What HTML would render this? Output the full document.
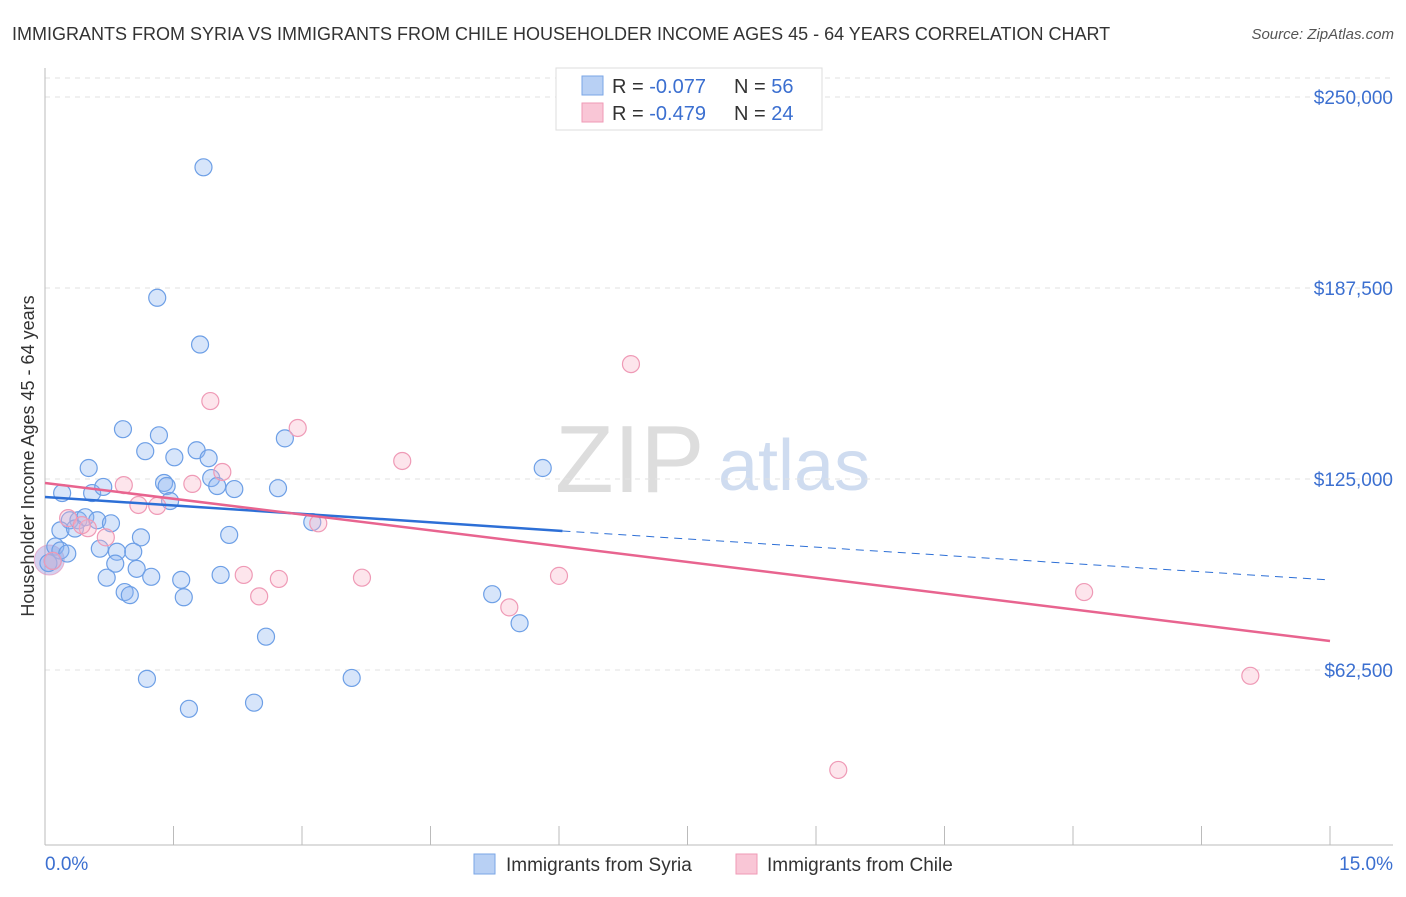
<!DOCTYPE html>
<html><head><meta charset="utf-8"><style>
body{margin:0;background:#fff;font-family:"Liberation Sans",sans-serif;}
svg text{font-family:"Liberation Sans",sans-serif;}
</style></head><body>
<svg id="chart" width="1406" height="892">
<text x="12" y="40" font-size="18" fill="#333">IMMIGRANTS FROM SYRIA VS IMMIGRANTS FROM CHILE HOUSEHOLDER INCOME AGES 45 - 64 YEARS CORRELATION CHART</text>
<text x="1394" y="39" font-size="15" fill="#555" text-anchor="end" font-style="italic">Source: ZipAtlas.com</text>
<text x="34" y="456" font-size="18" fill="#333" text-anchor="middle" transform="rotate(-90 34 456)">Householder Income Ages 45 - 64 years</text>
<text x="555" y="492" font-size="96" fill="#ddd" font-family="Liberation Serif">ZIP</text>
<text x="718" y="490" font-size="72" fill="#cfdcf0">atlas</text>
<g id="grid"></g><g id="axes"></g><g id="pts"></g><g id="lines"></g>
<g>
<rect x="556" y="68" width="266" height="62" fill="#fff" stroke="#ddd"/>
<rect x="582" y="76" width="21" height="19" fill="#b8d0f4" stroke="#7aa6e6"/>
<rect x="582" y="103" width="21" height="19" fill="#f9c6d6" stroke="#ef9ab6"/>
<text x="612" y="93" font-size="20" fill="#333">R = <tspan fill="#3b6fd0">-0.077</tspan></text>
<text x="734" y="93" font-size="20" fill="#333">N = <tspan fill="#3b6fd0">56</tspan></text>
<text x="612" y="120" font-size="20" fill="#333">R = <tspan fill="#3b6fd0">-0.479</tspan></text>
<text x="734" y="120" font-size="20" fill="#333">N = <tspan fill="#3b6fd0">24</tspan></text>
</g>
<g>
<rect x="474" y="854" width="21" height="20" fill="#b8d0f4" stroke="#7aa6e6"/>
<text x="506" y="871" font-size="19" fill="#333">Immigrants from Syria</text>
<rect x="736" y="854" width="21" height="20" fill="#f9c6d6" stroke="#ef9ab6"/>
<text x="767" y="871" font-size="19" fill="#333">Immigrants from Chile</text>
</g>
</svg>
<script>
const yTicks=[62500,125000,187500,250000];
const yTickLabels=["$62,500","$125,000","$187,500","$250,000"];
const xTicks=[0,1.5,3,4.5,6,7.5,9,10.5,12,13.5,15];
const xEndLabels=["0.0%","15.0%"];
const syriaX=[1.85,1.31,1.81,1.33,0.91,1.17,1.51,1.77,1.91,0.51,2.80,5.81,1.39,1.42,1.94,2.01,2.21,2.72,0.20,0.55,1.46,0.68,3.12,2.15,0.29,0.39,0.47,0.61,0.77,1.12,0.18,0.12,0.18,0.26,0.84,1.03,0.82,1.07,0.72,1.24,1.59,2.05,0.93,0.99,1.62,5.22,5.54,2.58,1.19,3.58,1.68,2.44,0.04,0.09,0.64,0.35];
const syriaY=[227000,184300,169000,139300,141300,134100,132100,134400,131800,128600,138300,128600,123700,122700,125300,122700,121700,122000,120400,120400,117800,122400,110900,106700,111500,111500,112500,111500,110500,105900,108200,102900,101600,100600,101200,101200,97300,95600,92700,93000,92000,93600,88000,87000,86300,87300,77800,73400,59600,59900,49800,51800,97500,98200,102200,108800];
const chileX=[6.84,1.93,2.95,4.17,2.07,1.72,0.92,1.09,1.31,0.27,0.50,0.71,3.19,0.09,2.32,2.73,3.70,2.50,5.42,6.00,12.13,14.07,9.26,0.43];
const chileY=[162600,150500,141700,130900,127300,123400,123000,116500,116200,112200,108900,105900,110500,98200,93600,92300,92700,86600,83000,93300,88000,60600,29800,109900];
const syriaTrend=[[0,119100],[6.04,108000],[15,91950]];
const chileTrend=[[0,123700],[15,72000]];
const NS="http://www.w3.org/2000/svg";
const X=v=>45+v/15*1285, Y=v=>670-(v-62500)/62500*191;
function mk(tag,attrs,parent){const e=document.createElementNS(NS,tag);for(const k in attrs)e.setAttribute(k,attrs[k]);document.getElementById(parent).appendChild(e);return e;}
yTicks.forEach((t,i)=>{
 const l=mk('line',{x1:45,x2:1393,y1:Y(t),y2:Y(t),stroke:'#e2e2e2','stroke-dasharray':'5,5'},'grid');
 
 
 const tx=mk('text',{x:1393,y:Y(t)+7,'font-size':19,fill:'#3b6fd0','text-anchor':'end'},'axes');
 tx.textContent=yTickLabels[i];
 
 
});
const topGrid=mk('line',{x1:45,x2:1393,y1:78,y2:78,stroke:'#e2e2e2','stroke-dasharray':'5,5'},'grid');


const ya=mk('line',{x1:45,x2:45,y1:68,y2:845,stroke:'#bbb'},'axes');


const xa=mk('line',{x1:45,x2:1393,y1:845,y2:845,stroke:'#bbb'},'axes');


xTicks.forEach(t=>{const l=mk('line',{x1:X(t),x2:X(t),y1:826,y2:845,stroke:'#bbb'},'axes');
 
 });
const xl0=mk('text',{x:45,y:870,'font-size':19,fill:'#3b6fd0'},'axes');xl0.textContent=xEndLabels[0];


const xl1=mk('text',{x:1393,y:870,'font-size':19,fill:'#3b6fd0','text-anchor':'end'},'axes');xl1.textContent=xEndLabels[1];


const big=mk('circle',{cx:X(0.05),cy:Y(98500),r:15,fill:'rgba(160,150,220,0.45)',stroke:'rgba(230,140,180,0.6)'},'pts');


syriaX.forEach((v,i)=>{const c=mk('circle',{cx:X(v),cy:Y(syriaY[i]),r:8.5,fill:'rgba(140,180,240,0.35)',stroke:'#6d9fe6','stroke-width':1.2},'pts');
 
 });
chileX.forEach((v,i)=>{const c=mk('circle',{cx:X(v),cy:Y(chileY[i]),r:8.5,fill:'rgba(248,180,200,0.35)',stroke:'#ef9ab6','stroke-width':1.2},'pts');
 
 });
const s=syriaTrend;
const b1=mk('line',{x1:X(s[0][0]),y1:Y(s[0][1]),x2:X(s[1][0]),y2:Y(s[1][1]),stroke:'#2d6fd6','stroke-width':2.5},'lines');


const b2=mk('line',{x1:X(s[1][0]),y1:Y(s[1][1]),x2:X(s[2][0]),y2:Y(s[2][1]),stroke:'#2d6fd6','stroke-width':1,'stroke-dasharray':'8,6'},'lines');


const p=mk('line',{x1:X(chileTrend[0][0]),y1:Y(chileTrend[0][1]),x2:X(chileTrend[1][0]),y2:Y(chileTrend[1][1]),stroke:'#e8648f','stroke-width':2.5},'lines');


</script>
</body></html>
